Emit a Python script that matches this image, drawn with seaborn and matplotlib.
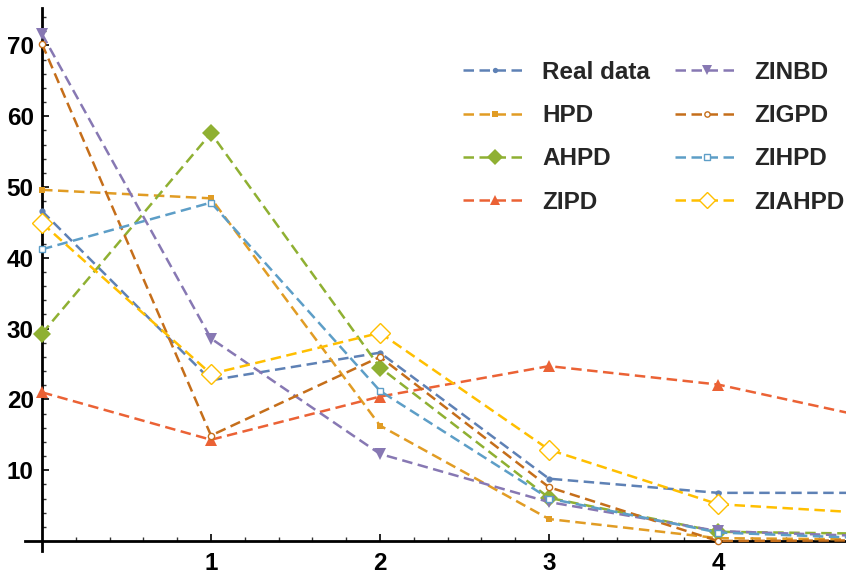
import numpy as np
import pandas as pd
import matplotlib
matplotlib.use("Agg")
import matplotlib.pyplot as plt
import seaborn as sns
from matplotlib.ticker import FixedLocator

x_vals = [0, 1, 2, 3, 4, 5]
real_data = [46.6, 22.7, 26.6, 8.8, 6.8, 6.8]
hpd = [49.6, 48.4, 16.3, 3.1, 0.4, 0.2]
ahpd = [29.3, 57.6, 24.5, 6.1, 1.3, 1.0]
zipd = [21.0, 14.3, 20.4, 24.7, 22.1, 16.9]
zinbd = [71.6, 28.6, 12.3, 5.5, 1.4, 0.6]
zigpd = [70.2, 14.9, 26.0, 7.6, 0.0, 0.1]
zihpd = [41.2, 47.8, 21.2, 6.0, 1.2, 0.3]
ziahpd = [44.9, 23.6, 29.4, 12.9, 5.2, 3.8]

names = ["Real data", "HPD", "AHPD", "ZIPD", "ZINBD", "ZIGPD", "ZIHPD", "ZIAHPD"]
series = [real_data, hpd, ahpd, zipd, zinbd, zigpd, zihpd, ziahpd]
colors = ["#5E81B5", "#E19C24", "#8FB032", "#EB6235",
          "#8778B3", "#C56E1A", "#5D9EC7", "#FFBF00"]
markers = ["o", "s", "D", "^", "v", "o", "s", "D"]
msizes = [4.5, 4.5, 9.5, 9, 9, 4.5, 5, 10]
filled = [True, True, True, True, True, False, False, False]

sns.set_theme(style="white")
plt.rcParams["font.family"] = ["Liberation Sans", "DejaVu Sans"]
plt.rcParams["font.weight"] = "bold"

W, H = 846, 575
fig = plt.figure(figsize=(W / 100, H / 100), dpi=100)
ax = fig.add_axes([0, 0, 1, 1])

x0_px, px_per_x = 42, 169.0
y0_px, px_per_y = 541, 7.08
ax.set_xlim(-x0_px / px_per_x, (W - x0_px) / px_per_x)
ax.set_ylim(-(H - y0_px) / px_per_y, y0_px / px_per_y)

lw = 1.8
ls = (0, (4.2, 2.2))
handles = []
for name, vals, c, m, ms, f in zip(names, series, colors, markers, msizes, filled):
    df = pd.DataFrame({"x": x_vals, "y": vals})
    sns.lineplot(data=df, x="x", y="y", ax=ax, color=c, linewidth=lw,
                 linestyle=ls, marker=m, markersize=ms,
                 markerfacecolor=(c if f else "white"),
                 markeredgecolor=c, markeredgewidth=(0 if f else 1.0),
                 legend=False)
    h, = ax.plot([], [], color=c, linewidth=lw, linestyle=ls, marker=m,
                 markersize=ms * 0.85, markerfacecolor=(c if f else "white"),
                 markeredgecolor=c, markeredgewidth=(0 if f else 1.0))
    handles.append(h)

for s in ["top", "right"]:
    ax.spines[s].set_visible(False)
ax.spines["left"].set_position(("data", 0))
ax.spines["bottom"].set_position(("data", 0))
ax.spines["left"].set_bounds(-1.4, 75.3)
ax.spines["bottom"].set_bounds(-0.1, (W - x0_px) / px_per_x)
for s in ["left", "bottom"]:
    ax.spines[s].set_color("black")
    ax.spines[s].set_linewidth(2.0)
    ax.spines[s].set_zorder(1)

ax.xaxis.set_major_locator(FixedLocator([1, 2, 3, 4]))
ax.xaxis.set_minor_locator(FixedLocator([v / 5 for v in range(1, 24) if v % 5 != 0]))
ax.yaxis.set_major_locator(FixedLocator([10, 20, 30, 40, 50, 60, 70]))
ax.yaxis.set_minor_locator(FixedLocator([v for v in range(2, 76, 2) if v % 10 != 0]))
ax.tick_params(axis="both", which="major", direction="in", length=5, width=1.2,
               color="black", labelsize=17.5, labelcolor="black")
ax.tick_params(axis="both", which="minor", direction="in", length=3, width=1.0,
               color="#333333")
ax.tick_params(axis="x", which="major", pad=8)
ax.tick_params(axis="y", which="major", pad=6)
ax.tick_params(left=True, bottom=True, which="both")
for lab in ax.get_xticklabels() + ax.get_yticklabels():
    lab.set_fontweight("bold")
ax.set_xlabel("")
ax.set_ylabel("")
ax.grid(False)

leg = ax.legend(handles, names, ncol=2, loc="upper left",
                bbox_to_anchor=(463 / W, 1 - 61 / H), bbox_transform=fig.transFigure,
                frameon=False, handlelength=2.6, handletextpad=0.65,
                columnspacing=1.05, labelspacing=0.83, borderpad=0, borderaxespad=0,
                prop={"weight": "bold", "size": 17.5})

fig.savefig("out.png", dpi=100)
